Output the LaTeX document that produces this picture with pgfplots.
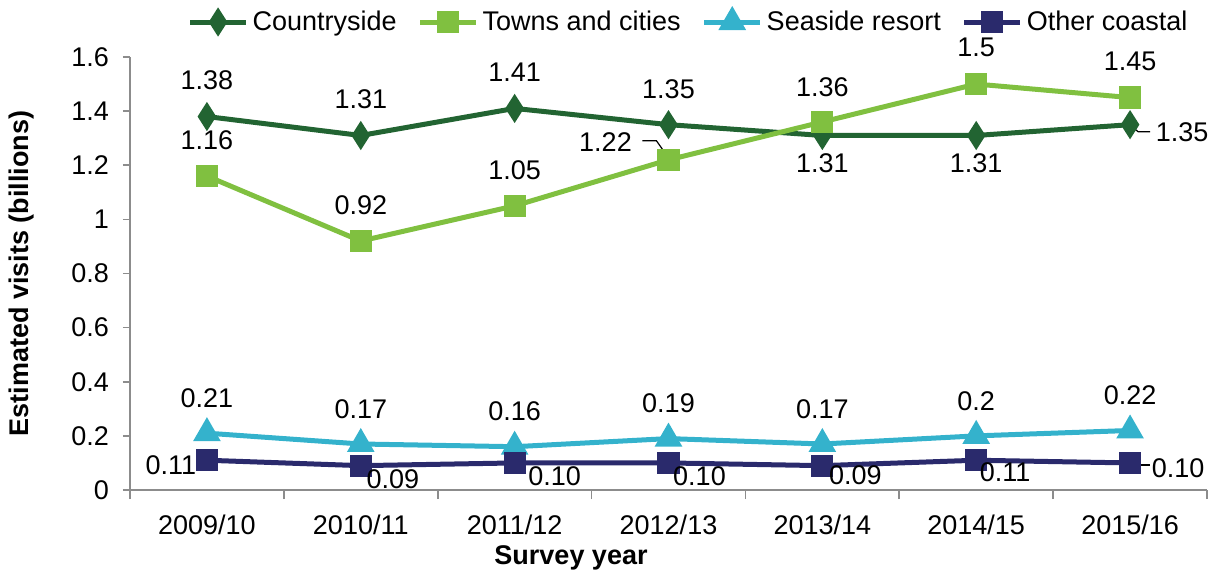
\documentclass[border=0pt]{standalone}
\usepackage{pgfplots}
\usepackage{pgfplotstable}
\usepackage{fontspec}
\setmainfont{Liberation Sans}
\pgfplotsset{compat=1.18}

\definecolor{cCountry}{RGB}{34,100,50}
\definecolor{cTowns}{RGB}{128,192,64}
\definecolor{cSea}{RGB}{52,178,204}
\definecolor{cOther}{RGB}{42,42,108}
\definecolor{axisgray}{RGB}{140,140,140}

% x = year index, dx/dy = label offset in pt
\pgfplotstableread{
x y lbl dx dy
0 1.38 1.38 0 18
1 1.31 1.31 0 18
2 1.41 1.41 0 18
3 1.35 1.35 0 17.5
4 1.31 1.31 0 -14
5 1.31 1.31 0 -14
6 1.35 1.35 26 -4
}\country
\pgfplotstableread{
x y lbl dx dy
0 1.16 1.16 0 18
1 0.92 0.92 0 18
2 1.05 1.05 0 18
3 1.22 1.22 -31.5 8.75
4 1.36 1.36 0 17.5
5 1.50 1.5 0 18.5
6 1.45 1.45 0 18
}\towns
\pgfplotstableread{
x y lbl dx dy
0 0.21 0.21 0 17.5
1 0.17 0.17 0 17.5
2 0.16 0.16 0 17.5
3 0.19 0.19 0 17.5
4 0.17 0.17 0 17.5
5 0.20 0.2 0 17.5
6 0.22 0.22 0 17.5
}\seaside
\pgfplotstableread{
x y lbl dx dy
0 0.11 0.11 -18 -2.5
1 0.09 0.09 16 -7
2 0.10 0.10 20 -6.5
3 0.10 0.10 15.5 -6.5
4 0.09 0.09 16.5 -5
5 0.11 0.11 14.5 -6
6 0.10 0.10 24 -2.5
}\other

\begin{document}
\begin{tikzpicture}
\begin{axis}[
  scale only axis,
  width=538.5pt, height=216.5pt,
  xmin=-0.5, xmax=6.5,
  ymin=0, ymax=1.6,
  xtick={0,...,6},
  xticklabels={2009/10,2010/11,2011/12,2012/13,2013/14,2014/15,2015/16},
  minor xtick={-0.5,0.5,...,6.5},
  ytick={0,0.2,...,1.6},
  yticklabel style={/pgf/number format/fixed,/pgf/number format/precision=1},
  /pgf/number format/assume math mode=true,
  axis x line*=bottom, axis y line*=left,
  axis line style={axisgray, line width=0.8pt, -},
  major x tick style={draw=none},
  minor x tick style={axisgray, line width=0.8pt},
  major y tick style={axisgray, line width=0.8pt},
  tick align=outside,
  major tick length=3.5pt, minor tick length=4.5pt,
  tick label style={font=\fontsize{13.5}{15}\selectfont},
  xticklabel style={yshift=-5.5pt},
  yticklabel style={xshift=-3.5pt},
  xlabel={\textbf{Survey year}},
  ylabel={\textbf{Estimated visits (billions)}},
  label style={font=\fontsize{13.5}{15}\selectfont},
  xlabel style={at={(axis description cs:0.4095,0)}, anchor=center, yshift=-34pt},
  ylabel style={at={(axis description cs:-0.1003,0.5)}, anchor=center},
  legend style={at={(axis description cs:0.5195,1)}, anchor=center, draw=none, fill=none,
    font=\fontsize{13.5}{15}\selectfont, legend columns=4, yshift=17.5pt,
    /tikz/every even column/.append style={column sep=8.5pt}},
  legend image code/.code={\draw[mark repeat=2,mark phase=2,#1] plot coordinates {(0pt,0pt) (14pt,0pt) (28pt,0pt)};},
  point meta=explicit symbolic,
  nodes near coords,
  visualization depends on={\thisrow{dx} \as \ldx},
  visualization depends on={\thisrow{dy} \as \ldy},
  every node near coord/.append style={font=\fontsize{13.5}{15}\selectfont, text=black,
    anchor=center, xshift=\ldx pt, yshift=\ldy pt, inner sep=0pt},
  clip=false,
]
\addplot[cCountry, line width=2.5pt, mark=diamond*, mark size=5pt,
  mark options={xscale=0.85}] table[x=x,y=y,meta=lbl] {\country};
\addlegendentry{Countryside}
\addplot[cTowns, line width=2.5pt, mark=square*, mark size=4.3pt] table[x=x,y=y,meta=lbl] {\towns};
\addlegendentry{Towns and cities}
\addplot[cSea, line width=2.5pt, mark=triangle*, mark size=5.5pt] table[x=x,y=y,meta=lbl] {\seaside};
\addlegendentry{Seaside resort}
\addplot[cOther, line width=2.5pt, mark=square*, mark size=4.3pt] table[x=x,y=y,meta=lbl] {\other};
\addlegendentry{Other coastal}
% leader lines
\draw[black, line width=0.6pt] (axis cs:3,1.22) ++(0pt,1pt) -- ++(-6pt,8.5pt) -- ++(-7pt,0pt);
\draw[black, line width=0.6pt] (axis cs:6,1.35) ++(1pt,-1pt) -- ++(3pt,-2.5pt) -- ++(6pt,0pt);
\draw[black, line width=0.6pt] (axis cs:6,0.10) ++(2pt,-1pt) -- ++(8pt,0pt);
\end{axis}
\pgfresetboundingbox
\path[use as bounding box] (current axis.south west) ++(-65pt,-42pt) rectangle ++(607.5pt,287pt);
\end{tikzpicture}
\end{document}
